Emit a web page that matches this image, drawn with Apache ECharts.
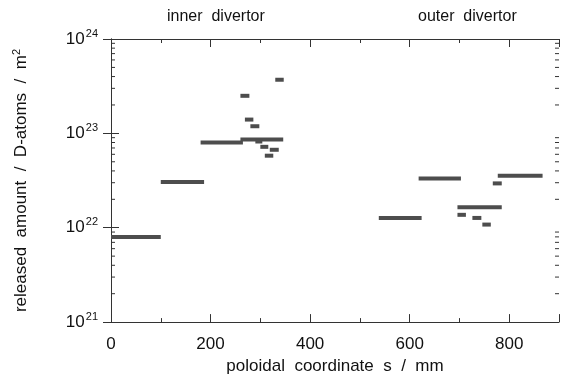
<!DOCTYPE html>
<html>
<head>
<meta charset="utf-8">
<script src="https://cdn.jsdelivr.net/npm/echarts@6/dist/echarts.min.js"></script>
<style>
  html, body { margin: 0; padding: 0; background: #fff; }
  #chart { width: 562px; height: 380px; }
</style>
</head>
<body>
<div id="chart"></div>
<script>
// released amount per poloidal segment (start / end in mm, value in D-atoms/m2)
const segStart = [0, 100, 180, 260, 330, 260, 269, 280, 290, 300, 319, 309,
                  538, 618, 696, 696, 726, 746, 767, 777];
const segEnd = [100, 187, 265, 346, 347, 278, 286, 298, 304, 316, 337, 326,
                624, 703, 785, 713, 744, 763, 785, 867];
const segValue = [8.0e21, 3.05e22, 8.0e22, 8.6e22, 3.7e23, 2.5e23, 1.4e23, 1.19e23, 8.2e22, 7.2e22, 6.7e22, 5.8e22,
                  1.27e22, 3.33e22, 1.65e22, 1.37e22, 1.27e22, 1.08e22, 2.95e22, 3.55e22];

// log axis minor ticks (2..9 times each decade)
const minorMult = [2, 3, 4, 5, 6, 7, 8, 9];
const decades = [1e21, 1e22, 1e23];
const regionLabels = ['inner  divertor', 'outer  divertor'];

const segData = segStart.map((s, i) => [s, segEnd[i], segValue[i]]);
const minorData = [];
decades.forEach((d) => {
  minorMult.forEach((m) => minorData.push([m * d]));
});

const font = 'Liberation Sans, Arial, sans-serif';
const lineCol = '#333';

const xCommon = {
  type: 'value',
  min: 0,
  max: 900,
  interval: 200,
  axisLine: { show: true, lineStyle: { color: lineCol, width: 1 } },
  axisTick: { show: true, inside: true, length: 8, lineStyle: { color: lineCol } },
  minorTick: { show: true, splitNumber: 2, length: 4, lineStyle: { color: lineCol } },
  splitLine: { show: false },
};

const yCommon = {
  type: 'log',
  logBase: 10,
  min: 1e21,
  max: 1e24,
  axisLine: { show: true, lineStyle: { color: lineCol, width: 1 } },
  axisTick: { show: true, inside: true, length: 8, lineStyle: { color: lineCol } },
  minorTick: { show: false },
  splitLine: { show: false },
};

const option = {
  animation: false,
  backgroundColor: '#fff',
  textStyle: { fontFamily: font },
  grid: { left: 111, right: 1, top: 39, bottom: 56 },
  xAxis: [
    Object.assign({}, xCommon, {
      position: 'bottom',
      name: 'poloidal  coordinate  s  /  mm',
      nameLocation: 'middle',
      nameGap: 32,
      nameTextStyle: { fontSize: 17, color: '#111', fontFamily: font },
      axisLabel: {
        margin: 14,
        fontSize: 17,
        color: '#111',
        fontFamily: font,
        formatter: (v) => (v % 200 === 0 ? String(v) : ''),
      },
    }),
    Object.assign({}, xCommon, {
      position: 'top',
      axisLabel: { show: false },
    }),
  ],
  yAxis: [
    Object.assign({}, yCommon, {
      position: 'left',
      name: '{t|released  amount  /  D-atoms  /  m}{p|2}',
      nameLocation: 'middle',
      nameGap: 80,
      nameRotate: 90,
      nameTextStyle: {
        rich: {
          t: { fontSize: 17, color: '#111', fontFamily: font, lineHeight: 20 },
          p: { fontSize: 11, color: '#111', fontFamily: font, verticalAlign: 'top', lineHeight: 20 },
        },
      },
      axisLabel: {
        margin: 13,
        formatter: (v) => '{b|10}{s|' + Math.round(Math.log10(v)) + '}',
        rich: {
          b: { fontSize: 17, color: '#111', fontFamily: font, lineHeight: 22 },
          s: { fontSize: 11, color: '#111', fontFamily: font, verticalAlign: 'top', lineHeight: 22, padding: [0, 0, 0, 1] },
        },
      },
    }),
    Object.assign({}, yCommon, {
      position: 'right',
      axisLabel: { show: false },
    }),
  ],
  series: [
    {
      // short minor ticks on left and right frame
      type: 'custom',
      silent: true,
      xAxisIndex: 0,
      yAxisIndex: 0,
      encode: { y: 0 },
      data: minorData,
      renderItem: (params, api) => {
        const l = api.coord([0, api.value(0)]);
        const r = api.coord([900, api.value(0)]);
        const st = { stroke: lineCol, lineWidth: 1 };
        return {
          type: 'group',
          children: [
            { type: 'line', shape: { x1: l[0], y1: l[1], x2: l[0] + 4, y2: l[1] }, style: st },
            { type: 'line', shape: { x1: r[0], y1: r[1], x2: r[0] - 4, y2: r[1] }, style: st },
          ],
        };
      },
    },
    {
      type: 'custom',
      silent: true,
      xAxisIndex: 0,
      yAxisIndex: 0,
      encode: { x: [0, 1], y: 2 },
      data: segData,
      renderItem: (params, api) => {
        const a = api.coord([api.value(0), api.value(2)]);
        const b = api.coord([api.value(1), api.value(2)]);
        return {
          type: 'rect',
          shape: { x: a[0], y: a[1] - 2, width: b[0] - a[0], height: 4 },
          style: { fill: '#4d4d4d' },
        };
      },
    },
  ],
  graphic: [
    {
      type: 'text',
      left: 167,
      top: 9,
      style: { text: regionLabels[0], font: '16px ' + font, fill: '#111' },
    },
    {
      type: 'text',
      left: 418,
      top: 9,
      style: { text: regionLabels[1], font: '16px ' + font, fill: '#111' },
    },
  ],
};

const chart = echarts.init(document.getElementById('chart'));
chart.setOption(option);
</script>
</body>
</html>
